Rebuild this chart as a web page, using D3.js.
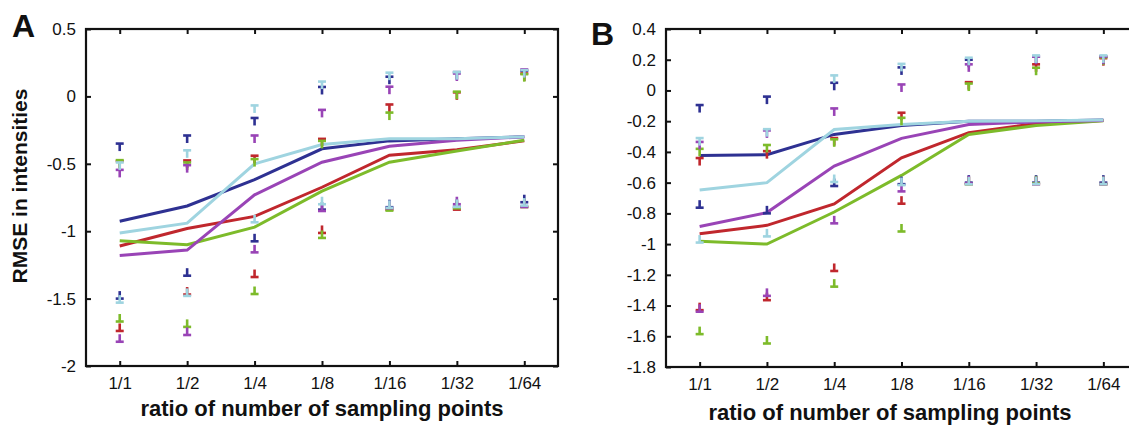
<!DOCTYPE html>
<html>
<head>
<meta charset="utf-8">
<script src="https://cdn.jsdelivr.net/npm/d3@7"></script>
<style>
  html, body { margin: 0; padding: 0; background: #fff; }
  svg { display: block; }
  text { font-family: "Liberation Sans", Arial, Helvetica, sans-serif; fill: #111; }
</style>
</head>
<body>
<svg id="chart" width="1129" height="427"></svg>
<script>
// ---------- data ----------
const categories = ["1/1", "1/2", "1/4", "1/8", "1/16", "1/32", "1/64"];
const seriesNames = ["blue", "red", "green", "purple", "cyan"];
const seriesColors = ["#2e3192", "#c0272d", "#7dbb2a", "#9944b6", "#9fd4e0"];

const aTicks = [0.5, 0, -0.5, -1, -1.5, -2];
const aTickLabels = ["0.5", "0", "-0.5", "-1", "-1.5", "-2"];
const bTicks = [0.4, 0.2, 0, -0.2, -0.4, -0.6, -0.8, -1, -1.2, -1.4, -1.6, -1.8];
const bTickLabels = ["0.4", "0.2", "0", "-0.2", "-0.4", "-0.6", "-0.8", "-1", "-1.2", "-1.4", "-1.6", "-1.8"];

// Panel A – mean lines
const aMeanBlue   = [-0.926, -0.813, -0.617, -0.389, -0.330, -0.315, -0.300];
const aMeanRed    = [-1.110, -0.980, -0.890, -0.674, -0.436, -0.395, -0.330];
const aMeanGreen  = [-1.070, -1.100, -0.970, -0.703, -0.488, -0.405, -0.325];
const aMeanPurple = [-1.180, -1.140, -0.730, -0.488, -0.370, -0.325, -0.300];
const aMeanCyan   = [-1.013, -0.940, -0.500, -0.357, -0.315, -0.315, -0.300];
// Panel A – upper whisker ends
const aUpBlue   = [-0.350, -0.290, -0.160, 0.070, 0.146, 0.180, 0.190];
const aUpRed    = [-0.480, -0.475, -0.440, -0.315, -0.060, 0.030, 0.170];
const aUpGreen  = [-0.473, -0.490, -0.465, -0.330, -0.120, 0.035, 0.165];
const aUpPurple = [-0.545, -0.510, -0.290, -0.100, 0.072, 0.170, 0.200];
const aUpCyan   = [-0.490, -0.400, -0.067, 0.110, 0.176, 0.180, 0.195];
// Panel A – lower whisker ends
const aLoBlue   = [-1.500, -1.330, -1.075, -0.840, -0.822, -0.820, -0.785];
const aLoRed    = [-1.740, -1.470, -1.340, -1.013, -0.840, -0.840, -0.820];
const aLoGreen  = [-1.670, -1.710, -1.466, -1.050, -0.847, -0.830, -0.820];
const aLoPurple = [-1.820, -1.770, -1.157, -0.850, -0.830, -0.800, -0.820];
const aLoCyan   = [-1.530, -1.480, -0.934, -0.800, -0.827, -0.820, -0.810];

// Panel B – mean lines
const bMeanBlue   = [-0.423, -0.418, -0.286, -0.228, -0.200, -0.200, -0.193];
const bMeanRed    = [-0.932, -0.878, -0.739, -0.438, -0.275, -0.215, -0.195];
const bMeanGreen  = [-0.982, -1.000, -0.791, -0.553, -0.286, -0.228, -0.198];
const bMeanPurple = [-0.886, -0.795, -0.492, -0.312, -0.221, -0.205, -0.195];
const bMeanCyan   = [-0.648, -0.600, -0.254, -0.221, -0.200, -0.198, -0.193];
// Panel B – upper whisker ends
const bUpBlue   = [-0.095, -0.040, 0.050, 0.150, 0.200, 0.220, 0.220];
const bUpRed    = [-0.440, -0.395, -0.310, -0.145, 0.054, 0.170, 0.210];
const bUpGreen  = [-0.380, -0.355, -0.318, -0.178, 0.045, 0.148, 0.215];
const bUpPurple = [-0.335, -0.260, -0.117, 0.039, 0.170, 0.220, 0.220];
const bUpCyan   = [-0.310, -0.252, 0.098, 0.173, 0.213, 0.228, 0.228];
// Panel B – lower whisker ends
const bLoBlue   = [-0.763, -0.800, -0.622, -0.610, -0.600, -0.600, -0.600];
const bLoRed    = [-1.430, -1.365, -1.175, -0.737, -0.610, -0.610, -0.610];
const bLoGreen  = [-1.586, -1.647, -1.277, -0.918, -0.610, -0.605, -0.610];
const bLoPurple = [-1.440, -1.337, -0.865, -0.657, -0.605, -0.610, -0.610];
const bLoCyan   = [-0.990, -0.950, -0.596, -0.616, -0.611, -0.610, -0.610];

// ---------- drawing ----------
const svg = d3.select("#chart");

function drawPanel(cfg) {
  const x = d3.scalePoint().domain(categories).range([cfg.left, cfg.right]).padding(0.5);
  const y = d3.scaleLinear().domain(cfg.yDomain).range([cfg.bottom, cfg.top]);
  const g = svg.append("g");

  // lines
  const line = d3.line().x((d, i) => x(categories[i])).y(d => y(d));
  cfg.means.forEach((vals, s) => {
    g.append("path").datum(vals)
      .attr("d", line)
      .attr("fill", "none")
      .attr("stroke", seriesColors[s])
      .attr("stroke-width", 3);
  });

  // whisker end markers
  const capW = 8, capH = 2.6, stemW = 2.6, stemL = 7.5;
  cfg.means.forEach((_, s) => {
    const col = seriesColors[s];
    cfg.upper[s].forEach((v, i) => {
      const cx = x(categories[i]), cy = y(v);
      g.append("rect").attr("x", cx - capW / 2).attr("y", cy - capH / 2)
        .attr("width", capW).attr("height", capH).attr("fill", col);
      g.append("rect").attr("x", cx - stemW / 2).attr("y", cy)
        .attr("width", stemW).attr("height", stemL).attr("fill", col);
    });
    cfg.lower[s].forEach((v, i) => {
      const cx = x(categories[i]), cy = y(v);
      g.append("rect").attr("x", cx - capW / 2).attr("y", cy - capH / 2)
        .attr("width", capW).attr("height", capH).attr("fill", col);
      g.append("rect").attr("x", cx - stemW / 2).attr("y", cy - stemL)
        .attr("width", stemW).attr("height", stemL).attr("fill", col);
    });
  });

  // axes
  const tickLen = 5;
  const yAxis = d3.axisLeft(y).tickValues(cfg.yTicks)
    .tickFormat((d, i) => cfg.yTickLabels[i])
    .tickSizeInner(-tickLen).tickSizeOuter(0).tickPadding(10);
  const ga = g.append("g").attr("transform", `translate(${cfg.left},0)`).call(yAxis);
  const xAxis = d3.axisBottom(x).tickSizeInner(-tickLen).tickSizeOuter(0).tickPadding(11);
  const gb = g.append("g").attr("transform", `translate(0,${cfg.bottom})`).call(xAxis);
  const xTop = d3.axisTop(x).tickSizeInner(-tickLen).tickSizeOuter(0).tickFormat("");
  const gc = g.append("g").attr("transform", `translate(0,${cfg.top})`).call(xTop);
  const yRight = d3.axisRight(y).tickValues(cfg.yTicks).tickSizeInner(-tickLen).tickSizeOuter(0).tickFormat("");
  const gd = g.append("g").attr("transform", `translate(${cfg.right},0)`).call(yRight);
  [ga, gb, gc, gd].forEach(a => {
    a.select(".domain").remove();
    a.selectAll(".tick line").attr("stroke", "#111").attr("stroke-width", 2);
    a.selectAll(".tick text").style("font-size", "17px")
      .style("font-family", '"Liberation Sans", Arial, sans-serif').attr("fill", "#111");
  });
  g.append("rect").attr("x", cfg.left).attr("y", cfg.top)
    .attr("width", cfg.right - cfg.left).attr("height", cfg.bottom - cfg.top)
    .attr("fill", "none").attr("stroke", "#111").attr("stroke-width", 2.2);

  // labels
  g.append("text").attr("x", cfg.letterX).attr("y", cfg.letterY)
    .style("font-size", "32px").style("font-weight", "bold").text(cfg.letter);
  g.append("text").attr("x", cfg.xLabelX).attr("y", cfg.xLabelY)
    .attr("text-anchor", "middle")
    .style("font-size", "22px").style("font-weight", "bold")
    .text("ratio of number of sampling points");
  if (cfg.yLabel) {
    g.append("text").attr("transform", `translate(27,186) rotate(-90)`)
      .attr("text-anchor", "middle")
      .style("font-size", "21px").style("font-weight", "bold")
      .text(cfg.yLabel);
  }
}

drawPanel({
  left: 86, right: 558, top: 29, bottom: 366,
  yDomain: [-2, 0.5], yTicks: aTicks, yTickLabels: aTickLabels,
  means: [aMeanBlue, aMeanRed, aMeanGreen, aMeanPurple, aMeanCyan],
  upper: [aUpBlue, aUpRed, aUpGreen, aUpPurple, aUpCyan],
  lower: [aLoBlue, aLoRed, aLoGreen, aLoPurple, aLoCyan],
  letter: "A", letterX: 12, letterY: 37,
  xLabelX: 322, xLabelY: 416,
  yLabel: "RMSE in intensities"
});

drawPanel({
  left: 666, right: 1137, top: 29, bottom: 367,
  yDomain: [-1.8, 0.4], yTicks: bTicks, yTickLabels: bTickLabels,
  means: [bMeanBlue, bMeanRed, bMeanGreen, bMeanPurple, bMeanCyan],
  upper: [bUpBlue, bUpRed, bUpGreen, bUpPurple, bUpCyan],
  lower: [bLoBlue, bLoRed, bLoGreen, bLoPurple, bLoCyan],
  letter: "B", letterX: 591, letterY: 45,
  xLabelX: 890, xLabelY: 420,
  yLabel: null
});
</script>
</body>
</html>
